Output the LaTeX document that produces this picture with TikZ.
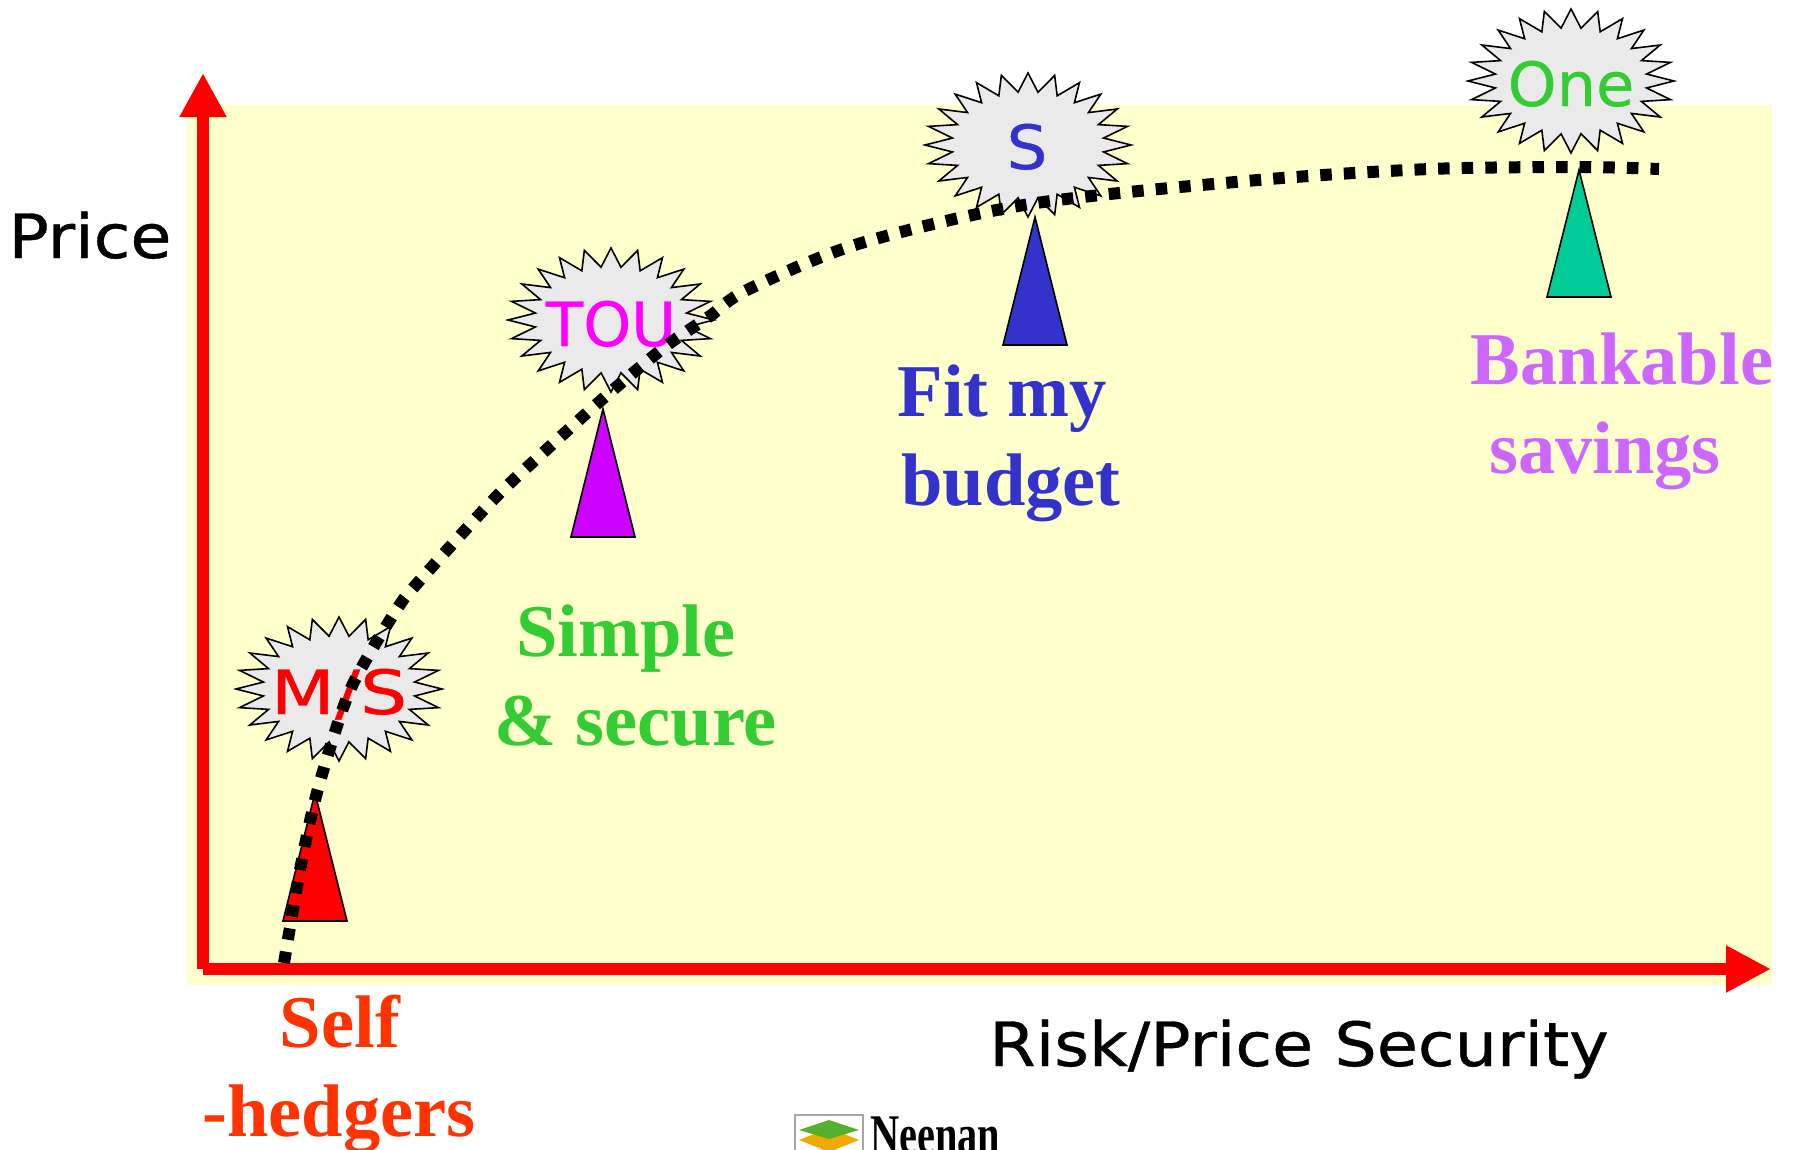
\documentclass[tikz,border=0pt]{standalone}
\usepackage{fontspec}
\setmainfont{Liberation Serif}
\setsansfont[FakeBold=0.6]{DejaVu Sans}
\usetikzlibrary{arrows.meta}
\definecolor{paleyellow}{HTML}{FFFFCC}
\definecolor{starfill}{HTML}{EAEAEA}
\definecolor{cselfh}{HTML}{FF3300}
\definecolor{cgreen}{HTML}{33CC33}
\definecolor{cblue}{HTML}{3333CC}
\definecolor{cviolet}{HTML}{CC66FF}
\definecolor{cpurple}{HTML}{CC00FF}
\definecolor{cteal}{HTML}{00CC99}
\definecolor{cmagenta}{HTML}{FF00FF}
\definecolor{logogreen}{HTML}{55B030}
\definecolor{logoorange}{HTML}{EEAA00}
\newcommand{\burst}[2]{%
  \draw[burststyle] plot[samples at={0,7.5,...,352.5}]
    ({#1+103*(0.87+0.13*cos(24*\x))*cos(\x)},{#2+72*(0.87+0.13*cos(24*\x))*sin(\x)}) -- cycle;}
\tikzset{
  x=1pt,y=-1pt,
  burststyle/.style={fill=starfill,draw=black,line width=1.6pt,line join=miter},
  axisline/.style={draw=red,line width=12pt},
  peak/.style={draw=black,line width=1.6pt,line join=miter},
  sanslabel/.style={inner sep=0pt,anchor=base,font=\sffamily\fontsize{61}{61}\selectfont},
  seriflabel/.style={inner sep=0pt,anchor=base,font=\bfseries\fontsize{74.5}{75}\selectfont},
}
\begin{document}
\begin{tikzpicture}
\useasboundingbox (0,0) rectangle (1794,1149);
\clip (0,0) rectangle (1794,1149);
\fill[paleyellow] (187,105) rectangle (1772,985);
% axes
\coordinate (origin) at (203,969);
\coordinate (ytip) at (203,73);
\coordinate (xtip) at (1771,969);
\draw[axisline,-{Triangle[length=44pt,width=44pt]}] (origin) -- (ytip);
\draw[axisline,-{Triangle[length=45pt,width=44pt]}] (origin) -- (xtip);
% markers
\draw[peak,fill=red] (315,793) -- (347,921) -- (283,921) -- cycle;
\draw[peak,fill=cpurple] (603,409) -- (635,537) -- (571,537) -- cycle;
\draw[peak,fill=cblue] (1035,217) -- (1067,345) -- (1003,345) -- cycle;
\draw[peak,fill=cteal] (1579,170) -- (1611,297) -- (1547,297) -- cycle;
% bursts
\burst{339}{689}
\burst{611}{320}
\burst{1028}{145}
\burst{1571}{81}
\node[sanslabel,text=red,xscale=1.22] (ms) at (339,714) {M/S};
\node[sanslabel,text=cmagenta] (tou) at (611,346) {TOU};
\node[sanslabel,text=cblue,xscale=1.05] (s) at (1027,169) {S};
\node[sanslabel,text=cgreen,xscale=1.02] (one) at (1571,106) {One};
% axis titles
\node[sanslabel,text=black,xscale=1.095] (price) at (90,258) {Price};
\node[sanslabel,text=black,xscale=1.095] (risk) at (1299,1066) {Risk/Price Security};
% serif labels
\node[seriflabel,text=cselfh] (self) at (340,1047) {Self};
\node[seriflabel,text=cselfh] (hedgers) at (339,1136) {-hedgers};
\node[seriflabel,text=cgreen] (simple) at (626,656) {Simple};
\node[seriflabel,text=cgreen] (secure) at (636,745) {\& secure};
\node[seriflabel,text=cblue] (fit) at (1002,416) {Fit my};
\node[seriflabel,text=cblue] (budget) at (1011,505) {budget};
\node[seriflabel,text=cviolet] (bankable) at (1622,384) {Bankable};
\node[seriflabel,text=cviolet] (savings) at (1605,473) {savings};
% logo
\draw[gray!70,line width=1.2pt,fill=white] (795,1115) rectangle (863,1160);
\fill[logoorange] (829,1128) -- (859,1140) -- (829,1152) -- (799,1140) -- cycle;
\fill[logogreen] (829,1120) -- (859,1130) -- (829,1139) -- (799,1130) -- cycle;
\node[inner sep=0pt,anchor=base west,xscale=.72,font=\bfseries\fontsize{56}{56}\selectfont] (logo) at (870,1153) {Neenan};
% curve
\draw[line width=12pt,dash pattern=on 11.5pt off 12.1pt] plot[smooth,tension=.5] coordinates {
 (284,963) (300,870) (315,800) (335,732) (351,688) (374,646) (399,606) (414,587) (493,500) (545,451) (598,403) (633,373) (670,343) (710,316) (747,290) (858,244) (1030,204) (1258,180) (1430,169) (1579,167) (1659,169)};
\end{tikzpicture}
\end{document}
